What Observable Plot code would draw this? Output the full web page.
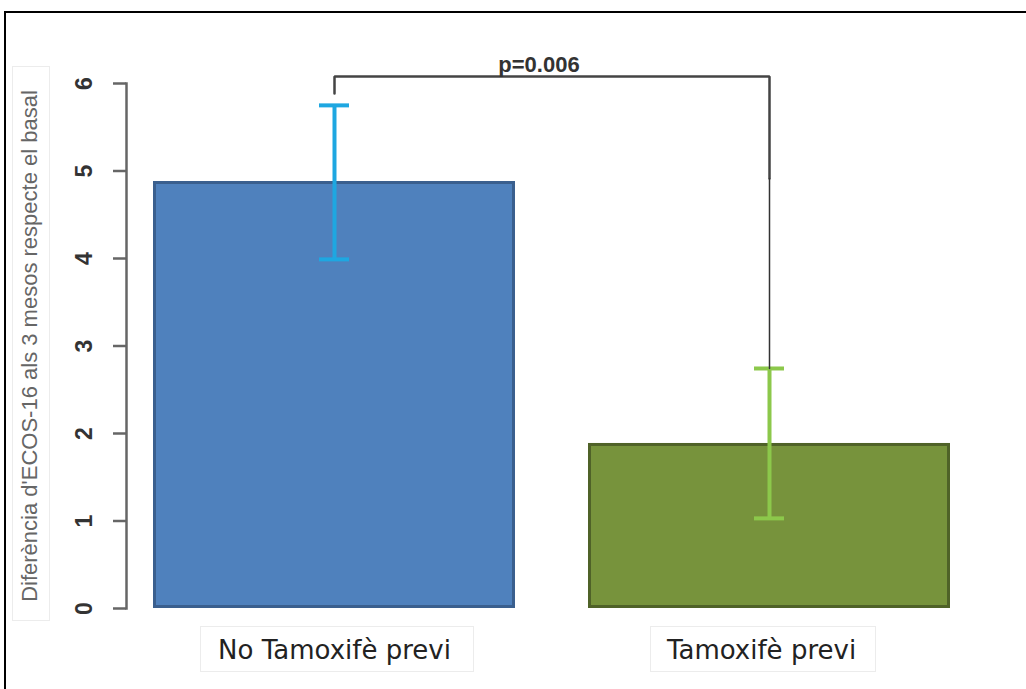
<!DOCTYPE html>
<html>
<head>
<meta charset="utf-8">
<script src="https://cdn.jsdelivr.net/npm/d3@7"></script>
<script src="https://cdn.jsdelivr.net/npm/@observablehq/plot@0.6"></script>
<style>
  html, body { margin: 0; padding: 0; background: #fff; }
  #wrap { position: relative; width: 1026px; height: 689px; overflow: hidden; }
  #border { position: absolute; left: 4px; top: 11px; right: -4px; bottom: -4px;
            border-top: 2px solid #000; border-left: 2px solid #000; pointer-events: none; }
  .lbox { position: absolute; border: 1px solid #ececec; pointer-events: none; }
</style>
</head>
<body>
<div id="wrap">
  <div id="chart"></div>
  <div class="lbox" style="left:200px;top:626px;width:272px;height:44px;"></div>
  <div class="lbox" style="left:650px;top:626px;width:224px;height:44px;"></div>
  <div class="lbox" style="left:12px;top:66px;width:36px;height:553px;"></div>
  <div id="border"></div>
</div>
<script>
// ---- data ----
const categories = ["No Tamoxifè previ", "Tamoxifè previ"];
const means = [4.88, 1.886];
const errLow = [3.99, 1.03];
const errHigh = [5.75, 2.743];
const barFills = ["#4F81BD", "#77933C"];
const barStrokes = ["#3A5F8E", "#4F6228"];
const errColors = ["#1EA7E1", "#8CC84B"];
const yTicks = [0, 1, 2, 3, 4, 5, 6];
const yLabel = "Diferència d'ECOS-16 als 3 mesos respecte el basal";
const pLabel = "p=0.006";
const bracketY = [5.886, 6.08, 6.08, 4.914];
const bracketTail = [4.914, 2.743];

const rows = categories.map((c, i) => ({
  cat: c, mean: means[i], lo: errLow[i], hi: errHigh[i],
  fill: barFills[i], stroke: barStrokes[i], err: errColors[i]
}));
const bracket = [
  {cat: categories[0], y: bracketY[0]},
  {cat: categories[0], y: bracketY[1]},
  {cat: categories[1], y: bracketY[2]},
  {cat: categories[1], y: bracketY[3]}
];
const tail = bracketTail.map(y => ({cat: categories[1], y}));

const chart = Plot.plot({
  width: 1026,
  height: 689,
  marginLeft: 126,
  marginRight: 75,
  marginTop: 83,
  marginBottom: 81,
  style: {background: "transparent"},
  x: {domain: categories, range: [153, 951], paddingInner: 0.167, paddingOuter: 0, axis: null},
  y: {domain: [0, 6], axis: null},
  marks: [
    Plot.barY(rows, {x: "cat", y: "mean", fill: d => d.fill, stroke: d => d.stroke,
      strokeWidth: 3, inset: 1.5}),
    Plot.ruleX(rows, {x: "cat", y1: "lo", y2: "hi", stroke: d => d.err, strokeWidth: 4}),
    Plot.tickY(rows, {x: "cat", y: "hi", stroke: d => d.err, strokeWidth: 4, insetLeft: 166, insetRight: 166}),
    Plot.tickY(rows, {x: "cat", y: "lo", stroke: d => d.err, strokeWidth: 4, insetLeft: 166, insetRight: 166}),
    Plot.line(bracket, {x: "cat", y: "y", stroke: "#444", strokeWidth: 2.5, strokeLinejoin: "miter"}),
    Plot.line(tail, {x: "cat", y: "y", stroke: "#333", strokeWidth: 1.5}),
    Plot.text([pLabel], {text: d => d, y: 6.137, lineAnchor: "bottom",
      fontSize: 22, fontWeight: "bold", fill: "#333", fontFamily: "Liberation Sans, Arial, sans-serif"}),
    Plot.axisY({ticks: yTicks, tickSize: 13, tickFormat: () => "", stroke: "#666", strokeWidth: 2.5}),
    Plot.frame({anchor: "left", stroke: "#666", strokeWidth: 2.5}),
    Plot.text(yTicks, {y: d => d, text: d => String(d), frameAnchor: "left", textAnchor: "middle",
      dx: -41.5, rotate: -90, fontSize: 23, fontWeight: "bold", fill: "#333",
      fontFamily: "Liberation Sans, Arial, sans-serif"}),
    Plot.text([yLabel], {text: d => d, y: 3.0, frameAnchor: "left", textAnchor: "middle",
      dx: -97, rotate: -90, fontSize: 22, fill: "#666",
      fontFamily: "Liberation Sans, Arial, sans-serif"}),
    Plot.text([categories[0]], {x: d => d, text: d => d, frameAnchor: "bottom", dy: 50,
      lineAnchor: "bottom", fontSize: 26, fill: "#222", fontFamily: "DejaVu Sans, sans-serif"}),
    Plot.text([categories[1]], {x: d => d, text: d => d, frameAnchor: "bottom", dy: 50, dx: -8,
      lineAnchor: "bottom", fontSize: 26, fill: "#222", fontFamily: "DejaVu Sans, sans-serif"})
  ]
});
document.getElementById("chart").appendChild(chart);
</script>
</body>
</html>
